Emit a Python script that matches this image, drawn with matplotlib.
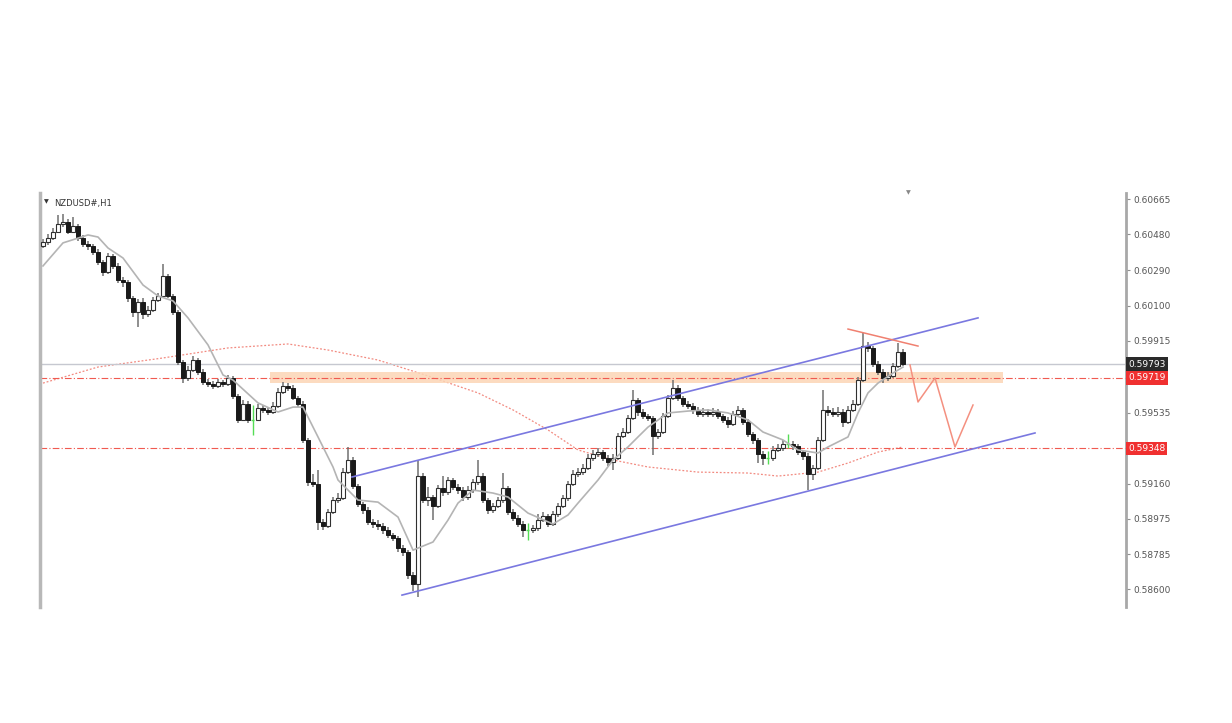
import numpy as np
import matplotlib
matplotlib.use("Agg")
from matplotlib import pyplot as plt
from matplotlib.transforms import blended_transform_factory

# NZDUSD H1 candles (open of each bar = previous close)
first_open = 0.60420
closes = [0.60439, 0.60460, 0.60492, 0.60534, 0.60545, 0.60492, 0.60524, 0.60460, 0.60428, 0.60418,
          0.60386, 0.60333, 0.60280, 0.60365, 0.60312, 0.60238, 0.60227, 0.60142, 0.60068, 0.60121,
          0.60058, 0.60079, 0.60132, 0.60153, 0.60259, 0.60153, 0.60068, 0.59804, 0.59719, 0.59761,
          0.59814, 0.59751, 0.59698, 0.59687, 0.59677, 0.59698, 0.59687, 0.59719, 0.59624, 0.59497,
          0.59581, 0.59497, 0.59497, 0.59560, 0.59550, 0.59539, 0.59571, 0.59645, 0.59677, 0.59666,
          0.59613, 0.59581, 0.59391, 0.59168, 0.59158, 0.58957, 0.58935, 0.59010, 0.59073, 0.59084,
          0.59221, 0.59285, 0.59147, 0.59052, 0.59020, 0.58957, 0.58946, 0.58935, 0.58914, 0.58888,
          0.58872, 0.58819, 0.58798, 0.58676, 0.58628, 0.59200, 0.59073, 0.59089, 0.59041, 0.59137,
          0.59115, 0.59179, 0.59142, 0.59126, 0.59089, 0.59126, 0.59168, 0.59200, 0.59073, 0.59020,
          0.59041, 0.59073, 0.59137, 0.59010, 0.58978, 0.58946, 0.58914, 0.58914, 0.58925, 0.58967,
          0.58988, 0.58946, 0.58999, 0.59041, 0.59084, 0.59158, 0.59211, 0.59221, 0.59242, 0.59295,
          0.59317, 0.59327, 0.59295, 0.59274, 0.59295, 0.59412, 0.59433, 0.59507, 0.59602, 0.59539,
          0.59518, 0.59507, 0.59412, 0.59433, 0.59518, 0.59613, 0.59666, 0.59613, 0.59581, 0.59571,
          0.59550, 0.59528, 0.59539, 0.59528, 0.59539, 0.59518, 0.59497, 0.59475, 0.59528, 0.59550,
          0.59486, 0.59422, 0.59391, 0.59317, 0.59295, 0.59295, 0.59338, 0.59348, 0.59370, 0.59370,
          0.59359, 0.59327, 0.59306, 0.59211, 0.59242, 0.59391, 0.59550, 0.59539, 0.59528, 0.59539,
          0.59486, 0.59550, 0.59581, 0.59708, 0.59888, 0.59878, 0.59793, 0.59751, 0.59719, 0.59730,
          0.59782, 0.59857, 0.59793]
highs = [0.60455, 0.60480, 0.60515, 0.60580, 0.60585, 0.60560, 0.60570, 0.60535, 0.60475, 0.60445,
         0.60430, 0.60400, 0.60345, 0.60380, 0.60375, 0.60325, 0.60255, 0.60240, 0.60155, 0.60135,
         0.60140, 0.60100, 0.60150, 0.60170, 0.60320, 0.60270, 0.60165, 0.60080, 0.59815, 0.59780,
         0.59835, 0.59825, 0.59765, 0.59715, 0.59705, 0.59715, 0.59710, 0.59735, 0.59730, 0.59635,
         0.59600, 0.59595, 0.59576, 0.59580, 0.59575, 0.59565, 0.59590, 0.59665, 0.59700, 0.59690,
         0.59680, 0.59625, 0.59595, 0.59400, 0.59210, 0.59230, 0.58975, 0.59025, 0.59090, 0.59110,
         0.59240, 0.59354, 0.59300, 0.59160, 0.59065, 0.59035, 0.58975, 0.58965, 0.58950, 0.58930,
         0.58900, 0.58885, 0.58835, 0.58810, 0.58690, 0.59285, 0.59215, 0.59140, 0.59100, 0.59155,
         0.59200, 0.59195, 0.59190, 0.59160, 0.59140, 0.59145, 0.59185, 0.59285, 0.59215, 0.59085,
         0.59060, 0.59090, 0.59216, 0.59150, 0.59025, 0.58995, 0.58960, 0.58952, 0.58940, 0.59000,
         0.59010, 0.59000, 0.59015, 0.59060, 0.59100, 0.59175, 0.59230, 0.59245, 0.59265, 0.59315,
         0.59340, 0.59350, 0.59340, 0.59310, 0.59315, 0.59430, 0.59455, 0.59525, 0.59655, 0.59615,
         0.59555, 0.59530, 0.59520, 0.59450, 0.59535, 0.59630, 0.59708, 0.59680, 0.59625, 0.59595,
         0.59585, 0.59565, 0.59560, 0.59555, 0.59560, 0.59555, 0.59530, 0.59510, 0.59545, 0.59570,
         0.59560, 0.59500, 0.59435, 0.59400, 0.59330, 0.59335, 0.59360, 0.59370, 0.59390, 0.59420,
         0.59385, 0.59370, 0.59340, 0.59320, 0.59260, 0.59405, 0.59655, 0.59570, 0.59560, 0.59565,
         0.59555, 0.59570, 0.59600, 0.59725, 0.59957, 0.59910, 0.59890, 0.59810, 0.59765, 0.59750,
         0.59800, 0.59904, 0.59870]
lows = [0.60405, 0.60425, 0.60450, 0.60485, 0.60520, 0.60480, 0.60485, 0.60445, 0.60410, 0.60395,
        0.60370, 0.60315, 0.60260, 0.60270, 0.60295, 0.60220, 0.60200, 0.60120, 0.60040, 0.59990,
        0.60030, 0.60040, 0.60070, 0.60120, 0.60145, 0.60140, 0.60050, 0.59790, 0.59690, 0.59705,
        0.59750, 0.59735, 0.59680, 0.59670, 0.59660, 0.59665, 0.59670, 0.59675, 0.59610, 0.59480,
        0.59490, 0.59480, 0.59417, 0.59490, 0.59535, 0.59525, 0.59530, 0.59560, 0.59635, 0.59650,
        0.59600, 0.59565, 0.59375, 0.59150, 0.59140, 0.58915, 0.58915, 0.58925, 0.59000, 0.59060,
        0.59075, 0.59210, 0.59130, 0.59035, 0.59000, 0.58940, 0.58925, 0.58915, 0.58895, 0.58870,
        0.58855, 0.58800, 0.58775, 0.58655, 0.58591, 0.58560, 0.59055, 0.59040, 0.58970, 0.59030,
        0.59095, 0.59100, 0.59125, 0.59105, 0.59070, 0.59075, 0.59110, 0.59155, 0.59055, 0.59000,
        0.59005, 0.59030, 0.59060, 0.58995, 0.58960, 0.58930, 0.58880, 0.58861, 0.58900, 0.58910,
        0.58955, 0.58930, 0.58935, 0.58985, 0.59030, 0.59070, 0.59145, 0.59195, 0.59205, 0.59230,
        0.59280, 0.59300, 0.59280, 0.59255, 0.59230, 0.59285, 0.59400, 0.59420, 0.59495, 0.59520,
        0.59500, 0.59490, 0.59311, 0.59395, 0.59420, 0.59505, 0.59600, 0.59595, 0.59565, 0.59555,
        0.59530, 0.59510, 0.59515, 0.59510, 0.59515, 0.59500, 0.59480, 0.59455, 0.59465, 0.59515,
        0.59470, 0.59405, 0.59370, 0.59270, 0.59258, 0.59265, 0.59280, 0.59325, 0.59335, 0.59350,
        0.59340, 0.59310, 0.59285, 0.59126, 0.59180, 0.59230, 0.59380, 0.59520, 0.59510, 0.59515,
        0.59460, 0.59475, 0.59540, 0.59570, 0.59700, 0.59855, 0.59775, 0.59735, 0.59690, 0.59705,
        0.59720, 0.59770, 0.59780]

# moving averages (bar index, price)
ma_fast_bar = [0, 4, 9, 11, 13, 16, 20, 23, 26, 29, 33, 36, 38, 43, 47, 50, 52, 55, 58, 59, 63, 67,
               71, 74, 78, 81, 83, 86, 90, 93, 97, 102, 105, 107, 111, 114, 117, 119, 121, 125, 129,
               133, 137, 141, 144, 148, 151, 155, 157, 161, 163, 165, 167, 170, 172]
ma_fast = [0.60312, 0.60434, 0.60476, 0.60465, 0.60407, 0.60354, 0.60211, 0.60153, 0.60127, 0.60037,
           0.59894, 0.59735, 0.59708, 0.59587, 0.59539, 0.59565, 0.59565, 0.59407, 0.59248, 0.59179,
           0.59073, 0.59062, 0.58983, 0.58808, 0.58851, 0.58967, 0.59057, 0.59126, 0.59110, 0.59089,
           0.59004, 0.58946, 0.58994, 0.59057, 0.59179, 0.59285, 0.59354, 0.59407, 0.59459, 0.59534,
           0.59544, 0.59550, 0.59534, 0.59497, 0.59433, 0.59391, 0.59338, 0.59322, 0.59354, 0.59407,
           0.59534, 0.59640, 0.59692, 0.59745, 0.59777]
ma_slow_bar = [0, 11, 24, 37, 49, 57, 67, 77, 87, 94, 101, 107, 114, 121, 131, 141, 147, 155, 161, 167, 172]
ma_slow = [0.59692, 0.59777, 0.59825, 0.59878, 0.59899, 0.59867, 0.59814, 0.59730, 0.59640, 0.59550,
           0.59444, 0.59338, 0.59285, 0.59248, 0.59221, 0.59216, 0.59200, 0.59221, 0.59269, 0.59327, 0.59354]

# drawn objects
channel_upper = [(61.8, 0.59195), (187.0, 0.60037)]
channel_lower = [(71.8, 0.58570), (198.4, 0.59428)]
top_line = [(161.0, 0.59978), (175.0, 0.59888)]
projection_bar = [173.4, 175.0, 178.4, 182.4, 186.0]
projection = [0.59788, 0.59592, 0.59719, 0.59354, 0.59576]
zone = (45.4, 192.0, 0.59692, 0.59751)
levels = [0.59719, 0.59348]
yticks = [0.60665, 0.60480, 0.60290, 0.60100, 0.59915, 0.59725, 0.59535, 0.59345,
          0.59160, 0.58975, 0.58785, 0.58600]

fig = plt.figure(figsize=(12.32, 7.23), dpi=100)
ax = fig.add_axes([40 / 1232, 116 / 723, 1086 / 1232, 414 / 723])
ax.set_xlim(-0.6, 216.6)
ax.set_ylim(0.58507, 0.60698)

opens = [first_open] + closes[:-1]
x = np.arange(len(closes))
for i in x:
    o, c, h, l = opens[i], closes[i], highs[i], lows[i]
    if o == c:
        ax.vlines(i, l, h, color="#55dd55", lw=1.0, zorder=3)
        ax.hlines(c, i - 0.3, i + 0.3, color="#55dd55", lw=1.0, zorder=3)
        continue
    ax.vlines(i, l, h, color="#707070", lw=1.1, zorder=2)
    if c < o:
        ax.bar(i, o - c, bottom=c, width=0.7, color="#1a1a1a", edgecolor="#1a1a1a", lw=0.7, zorder=3)
    else:
        ax.bar(i, c - o, bottom=o, width=0.7, color="#ffffff", edgecolor="#303030", lw=0.8, zorder=3)

ax.plot(ma_fast_bar, ma_fast, color="#b4b4b4", lw=1.2, zorder=4)
ax.plot(ma_slow_bar, ma_slow, color="#f28a80", lw=0.9, ls=(0, (1.5, 1.5)), zorder=1)

# support zone and levels
ax.axhspan(zone[2], zone[3], xmin=(zone[0] + 0.6) / 217.2, xmax=(zone[1] + 0.6) / 217.2,
           color="#fcd5b5", alpha=0.85, zorder=1, lw=0)
for lv in levels:
    ax.axhline(lv, color="#f05a50", lw=0.8, ls=(0, (6, 2, 1, 2)), zorder=1)
ax.axhline(closes[-1], color="#c6c8d0", lw=1.0, zorder=1)

for ln in (channel_upper, channel_lower):
    ax.plot([ln[0][0], ln[1][0]], [ln[0][1], ln[1][1]], color="#7a78e0", lw=1.2, zorder=5)
ax.plot([top_line[0][0], top_line[1][0]], [top_line[0][1], top_line[1][1]], color="#f08070", lw=1.1, zorder=5)
ax.plot(projection_bar, projection, color="#f49080", lw=1.1, zorder=5)

# axes look
for s in ("top", "bottom"):
    ax.spines[s].set_visible(False)
ax.spines["left"].set_color("#b8b8b8")
ax.spines["left"].set_linewidth(2.5)
ax.spines["right"].set_color("#a8a8a8")
ax.spines["right"].set_linewidth(2.0)
ax.set_xticks([])
ax.yaxis.tick_right()
ax.set_yticks(yticks)
# labels at the two level prices sit under the red price boxes
ax.set_yticklabels(["" if any(abs(v - lv) < 0.0001 for lv in levels) else "%.5f" % v for v in yticks])
ax.tick_params(axis="y", length=3, width=0.8, colors="#909090", labelcolor="#555555",
               labelsize=6.5, pad=2)

tr = blended_transform_factory(ax.transAxes, ax.transData)
ax.text(1.002, closes[-1], "%.5f" % closes[-1], transform=tr, fontsize=6.5, color="white",
        va="center", ha="left", bbox=dict(facecolor="#2a2a2a", edgecolor="none", pad=1.5), zorder=10)
for lv in levels:
    ax.text(1.002, lv, "%.5f" % lv, transform=tr, fontsize=6.5, color="white", va="center",
            ha="left", bbox=dict(facecolor="#f03030", edgecolor="none", pad=1.5), zorder=10)

ax.text(0.004, 0.985, "\u25bc", transform=ax.transAxes, fontsize=4.5, color="#333333", va="top")
ax.text(0.013, 0.985, "NZDUSD#,H1", transform=ax.transAxes, fontsize=6, color="#333333", va="top")
ax.text(0.8, 1.0, "\u25bc", transform=ax.transAxes, fontsize=4.5, color="#888888", va="center", ha="center")

fig.savefig("out.png", dpi=100)
plt.close(fig)
